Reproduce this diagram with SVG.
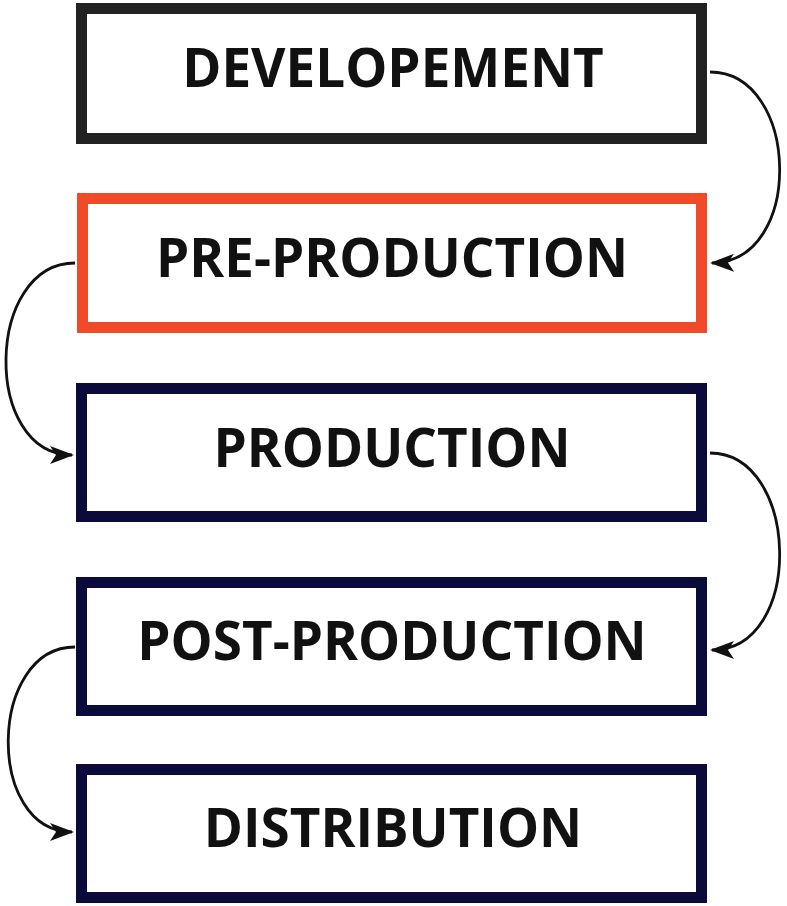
<svg xmlns="http://www.w3.org/2000/svg" width="787" height="906" viewBox="0 0 787 906">
<style>
.box{fill:#fff;stroke-width:11}
.lbl{font-family:"Open Sans","Liberation Sans",sans-serif;font-weight:700;font-size:53px;fill:#111;text-anchor:middle}
.conn{fill:none;stroke:#111;stroke-width:2.8}
</style>
<defs>
<marker id="ah" viewBox="0 0 24 18" refX="22" refY="9" markerWidth="24" markerHeight="18" markerUnits="userSpaceOnUse" orient="auto">
<path d="M0,0 L24,9 L0,18 L6,9 Z" fill="#111"/>
</marker>
</defs>
<rect width="787" height="906" fill="#fff"/>
<g id="n1"><rect class="box" x="81.5" y="8.5" width="620" height="130" stroke="#222"/><text class="lbl" x="393" y="87">DEVELOPEMENT</text></g>
<g id="n2"><rect class="box" x="82.5" y="198.5" width="619" height="129" stroke="#f04a28"/><text class="lbl" x="392" y="277">PRE-PRODUCTION</text></g>
<g id="n3"><rect class="box" x="81.5" y="388.5" width="620" height="128" stroke="#0b0b3b"/><text class="lbl" x="392" y="467">PRODUCTION</text></g>
<g id="n4"><rect class="box" x="81.5" y="582.5" width="620" height="128" stroke="#0b0b3b"/><text class="lbl" x="392" y="660">POST-PRODUCTION</text></g>
<g id="n5"><rect class="box" x="81.5" y="769.5" width="620" height="128" stroke="#0b0b3b"/><text class="lbl" x="393" y="847">DISTRIBUTION</text></g>
<g id="connectors">
<path class="conn" d="M710,72 C800,72 805,262 712,263" marker-end="url(#ah)"/>
<path class="conn" d="M75,263 C-15,263 -18,455 72,455" marker-end="url(#ah)"/>
<path class="conn" d="M710,453 C800,453 805,650 712,650" marker-end="url(#ah)"/>
<path class="conn" d="M75,647 C-12,647 -15,832 72,832" marker-end="url(#ah)"/>
</g>
</svg>
